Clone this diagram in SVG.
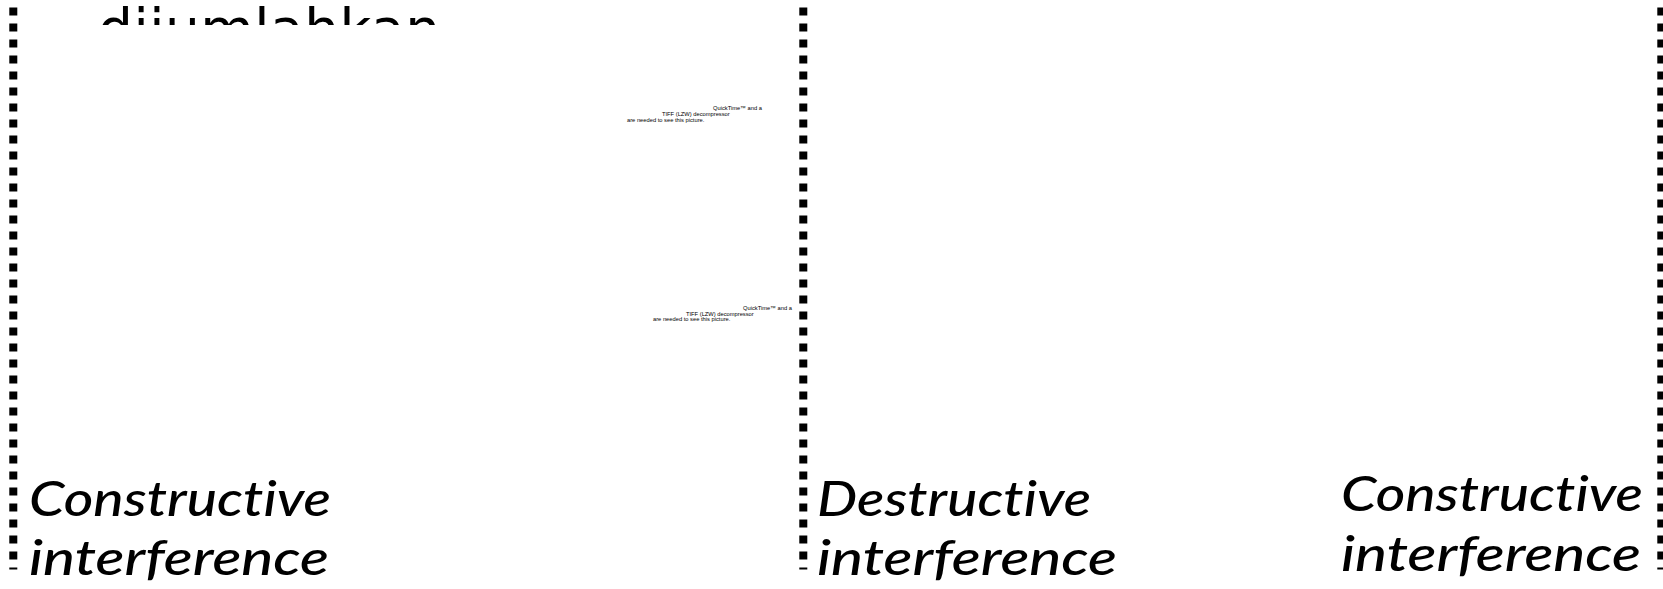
<svg xmlns="http://www.w3.org/2000/svg" width="1663" height="589" viewBox="0 0 1663 589">
<defs>
<style>
.div{stroke:#000;stroke-width:8;stroke-dasharray:8 8;fill:none}
.lbl{font-family:Lato,"Open Sans",sans-serif;font-style:italic;font-weight:500;font-size:49px;font-variant-ligatures:none;fill:#000}
.qt{font-family:"Liberation Sans",Arial,sans-serif;font-size:5.75px;fill:#000}
.title{font-family:"DejaVu Sans","Verdana",sans-serif;font-size:55px;fill:#000}
</style>
<clipPath id="topclip"><rect x="0" y="0" width="1663" height="25"/></clipPath>
</defs>
<rect x="0" y="0" width="1663" height="589" fill="#fff"/>
<g id="title" clip-path="url(#topclip)">
<text class="title" x="98" y="48" textLength="342" lengthAdjust="spacing">dijumlahkan</text>
</g>
<g id="dividers">
<line class="div" x1="13.3" y1="7.5" x2="13.3" y2="569.5"/>
<line class="div" x1="803.3" y1="7.5" x2="803.3" y2="569.5"/>
<line class="div" x1="1661.3" y1="7.5" x2="1661.3" y2="569.5"/>
</g>
<g id="placeholder1">
<text class="qt" x="713" y="110">QuickTime™ and a</text>
<text class="qt" x="662" y="116">TIFF (LZW) decompressor</text>
<text class="qt" x="627" y="122">are needed to see this picture.</text>
</g>
<g id="placeholder2">
<text class="qt" x="743" y="310">QuickTime™ and a</text>
<text class="qt" x="686" y="315.5">TIFF (LZW) decompressor</text>
<text class="qt" x="653" y="321">are needed to see this picture.</text>
</g>
<g id="label-constructive-left">
<text class="lbl" x="29" y="516" textLength="302" lengthAdjust="spacingAndGlyphs">Constructive</text>
<text class="lbl" x="29" y="575" textLength="300" lengthAdjust="spacingAndGlyphs">interference</text>
</g>
<g id="label-destructive">
<text class="lbl" x="817" y="516" textLength="274" lengthAdjust="spacingAndGlyphs">Destructive</text>
<text class="lbl" x="817" y="575" textLength="300" lengthAdjust="spacingAndGlyphs">interference</text>
</g>
<g id="label-constructive-right">
<text class="lbl" x="1341" y="511" textLength="302" lengthAdjust="spacingAndGlyphs">Constructive</text>
<text class="lbl" x="1341" y="571" textLength="300" lengthAdjust="spacingAndGlyphs">interference</text>
</g>
</svg>
